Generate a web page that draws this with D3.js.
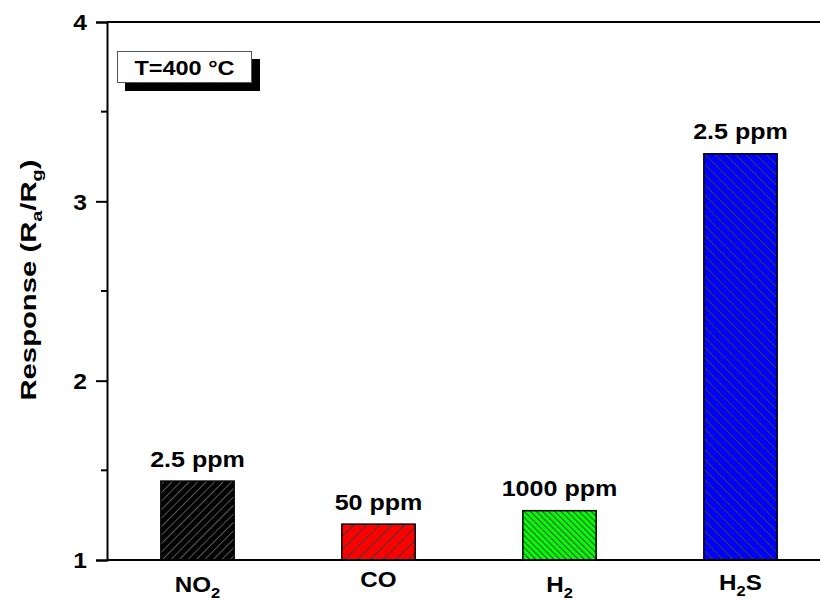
<!DOCTYPE html>
<html>
<head>
<meta charset="utf-8">
<script src="https://cdn.jsdelivr.net/npm/d3@7"></script>
<style>
	body { margin: 0; background: #fff; }
	svg text { font-family: Arial, "Liberation Sans", sans-serif; font-weight: bold; fill: #000; }
</style>
</head>
<body>
<svg id="chart" width="820" height="603"></svg>
<script>
// gases, responses
var gases = ["NO2", "CO", "H2", "H2S"];
var responses = [1.44, 1.20, 1.275, 3.265];
var concentrations = ["2.5 ppm", "50 ppm", "1000 ppm", "2.5 ppm"];
var fills = ["#000000", "#ff0000", "#00ff00", "#0000ff"];
var hatchAngle = [45, 45, -45, -45];
var hatchGap = [6, 9, 4.3, 7.2];
var yTicks = [1, 2, 3, 4];
var yMinor = [1.5, 2.5, 3.5];

buildChart();

// the original glyphs are wider than plain Arial bold, so stretch text sideways
function placeText(sel, px, py, sx, rot) {
	sel.attr("transform", "translate(" + px + "," + py + ")" + (rot ? " rotate(" + rot + ")" : "") + " scale(" + sx + ",1)");
}

function buildChart() {
	var svg = d3.select("#chart"),
		width = +svg.attr("width"),
		height = +svg.attr("height");

	var margin = { left: 107, top: 22, bottom: 43 };

	var x = d3.scalePoint()
		.domain(gases)
		.range([margin.left, margin.left + 724])
		.padding(0.5);

	var y = d3.scaleLinear()
		.domain([1, 4])
		.range([height - margin.bottom, margin.top]);

	var barW = x.step() * 0.405;

	// hatch patterns
	var defs = svg.append("defs");
	gases.forEach(function(g, i) {
		var p = defs.append("pattern")
			.attr("id", "hatch" + i)
			.attr("patternUnits", "userSpaceOnUse")
			.attr("width", hatchGap[i])
			.attr("height", hatchGap[i])
			.attr("patternTransform", "rotate(" + hatchAngle[i] + ")");
		p.append("rect")
			.attr("width", hatchGap[i])
			.attr("height", hatchGap[i])
			.attr("fill", fills[i]);
		p.append("line")
			.attr("x1", 0.5).attr("x2", 0.5)
			.attr("y1", 0).attr("y2", hatchGap[i])
			.attr("stroke", i == 0 ? "#5a5a5a" : "#3c3c3c")
			.attr("stroke-width", 1);
	});

	// bars
	svg.append("g")
		.selectAll("rect")
		.data(responses)
		.enter().append("rect")
			.attr("x", function(d, i) { return x(gases[i]) - barW / 2; })
			.attr("y", function(d) { return y(d); })
			.attr("width", barW)
			.attr("height", function(d) { return y(1) - y(d); })
			.attr("fill", function(d, i) { return "url(#hatch" + i + ")"; })
			.attr("stroke", "#000")
			.attr("stroke-width", 1.5);

	// concentration labels
	svg.append("g")
		.selectAll("text")
		.data(responses)
		.enter().append("text")
			.attr("text-anchor", "middle")
			.style("font-size", "22px")
			.text(function(d, i) { return concentrations[i]; })
			.each(function(d, i) { placeText(d3.select(this), x(gases[i]), y(d) - 14.5, 1.14); });

	// y axis
	var yAxis = svg.append("g")
		.attr("transform", "translate(" + margin.left + ",0)")
		.call(d3.axisLeft(y).tickValues(yTicks).tickSize(11).tickPadding(9).tickFormat(d3.format("d")));
	yAxis.select(".domain").attr("stroke-width", 2);
	yAxis.selectAll(".tick line").attr("stroke-width", 2);
	yAxis.selectAll(".tick text")
		.attr("font-family", null)
		.style("font-size", "22px")
		.attr("dy", "0.36em")
		.each(function() {
			var t = d3.select(this);
			placeText(t, +t.attr("x"), 0, 1.12);
			t.attr("x", 0);
		});

	svg.append("g")
		.selectAll("line")
		.data(yMinor)
		.enter().append("line")
			.attr("x1", margin.left - 6)
			.attr("x2", margin.left)
			.attr("y1", function(d) { return y(d); })
			.attr("y2", function(d) { return y(d); })
			.attr("stroke", "#000")
			.attr("stroke-width", 2);

	// frame lines: bottom and top
	svg.append("line")
		.attr("x1", margin.left).attr("x2", width)
		.attr("y1", y(1)).attr("y2", y(1))
		.attr("stroke", "#000").attr("stroke-width", 2);
	svg.append("line")
		.attr("x1", margin.left).attr("x2", width)
		.attr("y1", y(4)).attr("y2", y(4))
		.attr("stroke", "#000").attr("stroke-width", 2);

	// x labels with subscripts
	var xl = svg.append("g")
		.selectAll("text")
		.data(gases)
		.enter().append("text")
			.attr("text-anchor", "middle")
			.style("font-size", "22px")
			.each(function(d) {
				var sub = /\d/.test(d) ? (d == "H2S" ? 3 : 5) : 0;
				placeText(d3.select(this), x(d), y(1) + 27 + sub, 1.1);
			});
	xl.each(function(d) {
		var t = d3.select(this);
		d.match(/[A-Z]+|\d+/g).forEach(function(part) {
			var s = t.append("tspan").text(part);
			if (/\d/.test(part)) s.attr("dy", 6).style("font-size", "15px");
			else if (t.selectAll("tspan").size() > 1) s.attr("dy", -6);
		});
	});

	// y title
	var title = svg.append("text")
		.attr("text-anchor", "middle")
		.style("font-size", "22px");
	placeText(title, 36, 280, 1.33, -90);
	title.append("tspan").text("Response (R");
	title.append("tspan").text("a").attr("dy", 6).style("font-size", "15px");
	title.append("tspan").text("/R").attr("dy", -6);
	title.append("tspan").text("g").attr("dy", 6).style("font-size", "15px");
	title.append("tspan").text(")").attr("dy", -6);

	// temperature box with shadow
	svg.append("rect")
		.attr("x", 125).attr("y", 59)
		.attr("width", 135).attr("height", 32)
		.attr("fill", "#000");
	svg.append("rect")
		.attr("x", 117.5).attr("y", 51.5)
		.attr("width", 134).attr("height", 31)
		.attr("fill", "#fff")
		.attr("stroke", "#555")
		.attr("stroke-width", 1);
	var tl = svg.append("text")
		.attr("text-anchor", "middle")
		.style("font-size", "21px")
		.text("T=400 °C");
	placeText(tl, 184.5, 74.5, 1.12);
}
</script>
</body>
</html>
